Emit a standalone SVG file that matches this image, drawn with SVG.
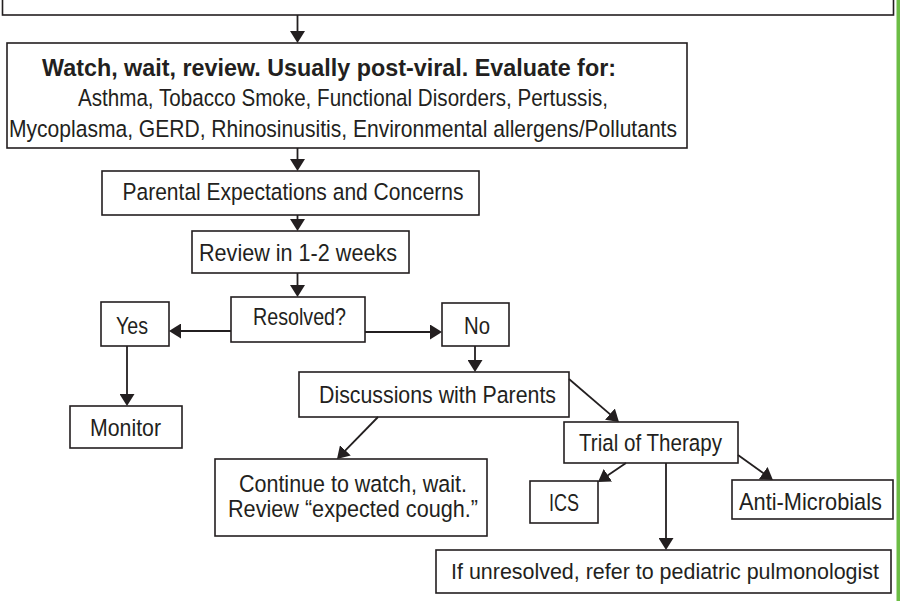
<svg xmlns="http://www.w3.org/2000/svg" width="905" height="601" viewBox="0 0 905 601">
<defs>
<style>
.box{fill:#fff;stroke:#231f20;stroke-width:1.6}
.t{font-family:"Liberation Sans Narrow","Liberation Sans",Arial,sans-serif;font-size:24.5px;fill:#231f20}
.b{font-weight:bold}
.c{stroke:#231f20;stroke-width:1.8;fill:none;marker-end:url(#ah)}
</style>
<marker id="ah" markerUnits="userSpaceOnUse" viewBox="0 0 12 15" markerWidth="12" markerHeight="15" refX="8" refY="7.5" orient="auto">
<path d="M0,0 L12,7.5 L0,15 z" fill="#231f20"/>
</marker>
</defs>
<rect x="0" y="0" width="905" height="601" fill="#fff"/>
<rect x="896.5" y="0" width="3.5" height="601" fill="#6cbd45"/>

<g id="top">
<rect class="box" x="2.5" y="-10" width="891" height="25"/>
</g>
<g id="watch">
<rect class="box" x="7" y="43" width="680" height="105"/>
<text class="t b" x="42" y="76" textLength="574" lengthAdjust="spacingAndGlyphs">Watch, wait, review. Usually post-viral. Evaluate for:</text>
<text class="t" x="78" y="106" textLength="530" lengthAdjust="spacingAndGlyphs">Asthma, Tobacco Smoke, Functional Disorders, Pertussis,</text>
<text class="t" x="9" y="137" textLength="668" lengthAdjust="spacingAndGlyphs">Mycoplasma, GERD, Rhinosinusitis, Environmental allergens/Pollutants</text>
</g>
<g id="parental">
<rect class="box" x="102" y="171" width="377" height="44"/>
<text class="t" x="122.5" y="199.5" textLength="341" lengthAdjust="spacingAndGlyphs">Parental Expectations and Concerns</text>
</g>
<g id="review">
<rect class="box" x="192" y="231" width="217" height="42"/>
<text class="t" x="199" y="261" textLength="198" lengthAdjust="spacingAndGlyphs">Review in 1-2 weeks</text>
</g>
<g id="resolved">
<rect class="box" x="231" y="297" width="134" height="45"/>
<text class="t" x="253" y="325" textLength="93" lengthAdjust="spacingAndGlyphs">Resolved?</text>
</g>
<g id="yes">
<rect class="box" x="101" y="302" width="68" height="44"/>
<text class="t" x="116" y="333.5" textLength="32" lengthAdjust="spacingAndGlyphs">Yes</text>
</g>
<g id="no">
<rect class="box" x="442" y="303" width="67" height="43"/>
<text class="t" x="464" y="333.5" textLength="26" lengthAdjust="spacingAndGlyphs">No</text>
</g>
<g id="monitor">
<rect class="box" x="70" y="406" width="112" height="42"/>
<text class="t" x="90" y="436" textLength="71" lengthAdjust="spacingAndGlyphs">Monitor</text>
</g>
<g id="discussions">
<rect class="box" x="299" y="372" width="270" height="45"/>
<text class="t" x="319" y="403" textLength="237" lengthAdjust="spacingAndGlyphs">Discussions with Parents</text>
</g>
<g id="continue">
<rect class="box" x="215" y="459" width="272" height="77"/>
<text class="t" x="239" y="491.5" textLength="228" lengthAdjust="spacingAndGlyphs">Continue to watch, wait.</text>
<text class="t" x="228" y="517" textLength="250" lengthAdjust="spacingAndGlyphs">Review “expected cough.”</text>
</g>
<g id="trial">
<rect class="box" x="564" y="422" width="174" height="41"/>
<text class="t" x="579" y="451" textLength="143" lengthAdjust="spacingAndGlyphs">Trial of Therapy</text>
</g>
<g id="ics">
<rect class="box" x="530" y="481" width="68" height="42"/>
<text class="t" x="549" y="511" textLength="30" lengthAdjust="spacingAndGlyphs">ICS</text>
</g>
<g id="antimicrobials">
<rect class="box" x="732" y="480" width="161" height="39"/>
<text class="t" x="739" y="510" textLength="143" lengthAdjust="spacingAndGlyphs">Anti-Microbials</text>
</g>
<g id="refer">
<rect class="box" x="436" y="550" width="455" height="43"/>
<text class="t" x="665" y="578.5" text-anchor="middle" style="font-size:22.5px" textLength="428" lengthAdjust="spacingAndGlyphs">If unresolved, refer to pediatric pulmonologist</text>
</g>

<g id="connectors">
<line class="c" x1="297.5" y1="15" x2="297.5" y2="39"/>
<line class="c" x1="297.5" y1="148" x2="297.5" y2="167"/>
<line class="c" x1="297.5" y1="215" x2="297.5" y2="227"/>
<line class="c" x1="297.5" y1="273" x2="297.5" y2="293"/>
<line class="c" x1="231" y1="331" x2="173" y2="331"/>
<line class="c" x1="365" y1="332" x2="438" y2="332"/>
<line class="c" x1="127" y1="346" x2="127" y2="402"/>
<line class="c" x1="475" y1="346" x2="475" y2="368"/>
<line class="c" x1="378" y1="417" x2="339.8" y2="456.1"/>
<line class="c" x1="569" y1="379" x2="616" y2="419.4"/>
<line class="c" x1="626" y1="463" x2="601.3" y2="479.8"/>
<line class="c" x1="666" y1="463" x2="666" y2="546"/>
<line class="c" x1="738" y1="455" x2="769.7" y2="477.7"/>
</g>
</svg>
